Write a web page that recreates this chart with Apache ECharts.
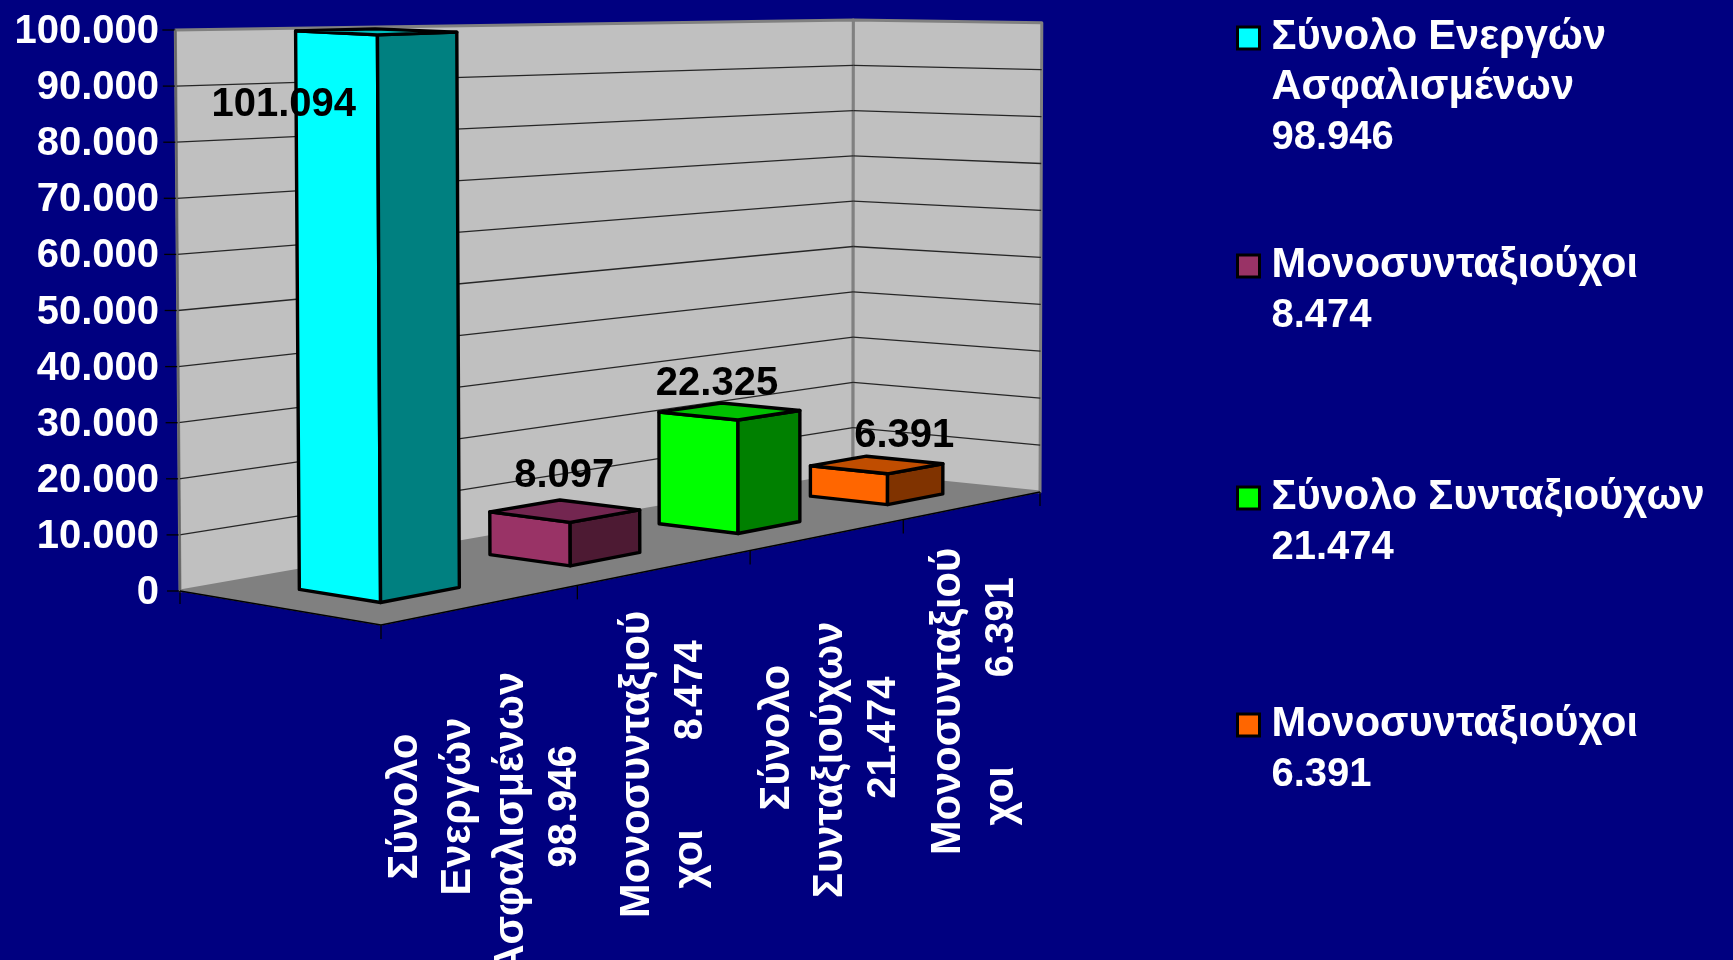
<!DOCTYPE html>
<html><head><meta charset="utf-8">
<style>html,body{margin:0;padding:0;background:#000080;overflow:hidden}#c{width:1733px;height:960px}</style>
<script src="https://cdn.jsdelivr.net/npm/echarts@6/dist/echarts.min.js"></script>
</head><body><div id="c"></div>
<script>
// ---- data ----
const categories = ['Σύνολο Ενεργών Ασφαλισμένων 98.946','Μονοσυνταξιούχοι 8.474','Σύνολο Συνταξιούχων 21.474','Μονοσυνταξιούχοι 6.391'];
const categoryLabels = ['Σύνολο\nΕνεργών\nΑσφαλισμένων   \n98.946','Μονοσυνταξιού\nχοι        8.474','Σύνολο\nΣυνταξιούχων    \n21.474','Μονοσυνταξιού\nχοι        6.391'];
const legendNames = ['Σύνολο Ενεργών\nΑσφαλισμένων\n98.946','Μονοσυνταξιούχοι\n8.474','Σύνολο Συνταξιούχων\n21.474','Μονοσυνταξιούχοι\n6.391'];
const barValues = [101094, 8097, 22325, 6391];
const barLabels = ['101.094','8.097','22.325','6.391'];
const yTicks = [0,10000,20000,30000,40000,50000,60000,70000,80000,90000,100000];

// ---- styles and layout ----
const FAMILY = '"Liberation Sans", Arial, sans-serif';
const FONT = 'bold 40px '+FAMILY;
const GREEK_FONT = 'bold 41.6px '+FAMILY;
const faceColors = [
  {side:'#00FFFF',front:'#008080',top:'#00C0C0'},
  {side:'#993366',front:'#4D1A33',top:'#732650'},
  {side:'#00FF00',front:'#008000',top:'#00C000'},
  {side:'#FF6600',front:'#803300',top:'#C04D00'}
];
const labelNudge = [[-92,73],[0,-35],[-12,-27],[28,-29]];
const catLabelShift = [[3,202],[-2,197],[2,203],[2,196]];
const legendCentres = [38,266,498,725];
const DEPTH = [0.295,0.7], BAR_FRACTION = 0.4, U_WARP = 0.05;
const LEAN = 0.0075, LEAN_CENTRE = 800;

function richGreek(line){return line.replace(/[\u0370-\u03FF]+/g,'{g|$&}');}

// ---- perspective box: floor corners and ceiling corners ----
const F=[381,625],R=[1040,492],B=[853,473],L=[180,591];
const FT=[378,42],RT=[1043,22.7],BT=[853,20],LT=[175,30];
function quadMap(p0,p1,p2,p3){
  const dx1=p1[0]-p2[0],dx2=p3[0]-p2[0],sx=p0[0]-p1[0]+p2[0]-p3[0];
  const dy1=p1[1]-p2[1],dy2=p3[1]-p2[1],sy=p0[1]-p1[1]+p2[1]-p3[1];
  const den=dx1*dy2-dx2*dy1;
  const g=(sx*dy2-dx2*sy)/den,h=(dx1*sy-sx*dy1)/den;
  const a=p1[0]-p0[0]+g*p1[0],b=p3[0]-p0[0]+h*p3[0],c=p0[0];
  const d=p1[1]-p0[1]+g*p1[1],e=p3[1]-p0[1]+h*p3[1],f=p0[1];
  return function(u,v){const w=g*u+h*v+1;return [(a*u+b*v+c)/w,(d*u+e*v+f)/w];};
}
const floorMap=quadMap(F,R,B,L), ceilMap=quadMap(FT,RT,BT,LT);
function P(u,v,z){
  const uw=u/(1+U_WARP*(1-u));
  const a=floorMap(uw,v),b=ceilMap(uw,v);
  return [a[0]+LEAN*(a[0]-LEAN_CENTRE)*z,a[1]+(b[1]-a[1])*z];
}
function poly(points,fill,stroke,lw){
  return {type:'polygon',shape:{points:points},style:{fill:fill,stroke:stroke,lineWidth:lw,lineJoin:'round'}};
}
function seg(a,b,stroke,lw){
  return {type:'line',shape:{x1:a[0],y1:a[1],x2:b[0],y2:b[1]},style:{stroke:stroke,lineWidth:lw}};
}
function toU(cs,x){return (x-cs.x)/cs.width;}
function toZ(cs,y){return (cs.y+cs.height-y)/cs.height;}

function renderFrame(params,api){
  const cs=params.coordSys,ch=[];
  ch.push(poly([P(0,0,0),P(1,0,0),P(1,1,0),P(0,1,0)],'#808080','#808080',1));
  ch.push(poly([P(0,1,0),P(1,1,0),P(1,1,1),P(0,1,1)],'#C0C0C0','#808080',3));
  ch.push(poly([P(1,1,0),P(1,0,0),P(1,0,1),P(1,1,1)],'#C0C0C0','#808080',3));
  yTicks.forEach(function(t){
    const z=toZ(cs,api.coord([0,t])[1]);
    if(t>0&&t<100000){
      ch.push(seg(P(0,1,z),P(1,1,z),'#262626',1.3));
      ch.push(seg(P(1,1,z),P(1,0,z),'#262626',1.3));
    }
    const a=P(0,1,z);
    ch.push(seg([a[0]-13,a[1]],a,'#000',1.3));
  });
  ch.push(seg(P(0,1,0),P(0,1,1),'#666',2));
  ch.push(seg(P(0,1,0),P(0,0,0),'#000',1.5));
  ch.push(seg(P(0,0,0),P(1,0,0),'#000',1.5));
  const a=P(0,1,0);ch.push(seg(a,[a[0],a[1]+13],'#000',1.3));
  const band=api.size([1,0])[0];
  categories.forEach(function(c,i){
    const x=api.coord([i,0])[0]+band/2;
    const p=P(toU(cs,x),0,0);
    ch.push(seg(p,[p[0],p[1]+14],'#000',1.3));
  });
  const p0=P(0,0,0);ch.push(seg(p0,[p0[0],p0[1]+14],'#000',1.3));
  return {type:'group',children:ch};
}
function renderBar(params,api){
  const cs=params.coordSys,i=api.value(0),val=api.value(1);
  const c=api.coord([i,val]),base=api.coord([i,0]),band=api.size([1,0])[0];
  const uc=toU(cs,c[0]),du=BAR_FRACTION*band/cs.width/2;
  const u0=uc-du,u1=uc+du,v0=DEPTH[0],v1=DEPTH[1];
  const z=Math.min(1,toZ(cs,c[1])),zb=toZ(cs,base[1]); // the bar is cut off at the axis maximum
  const col=faceColors[i],lw=3.4;
  const ch=[
    poly([P(u0,v1,zb),P(u0,v0,zb),P(u0,v0,z),P(u0,v1,z)],col.side,'#000',lw),
    poly([P(u0,v0,zb),P(u1,v0,zb),P(u1,v0,z),P(u0,v0,z)],col.front,'#000',lw),
    poly([P(u0,v0,z),P(u1,v0,z),P(u1,v1,z),P(u0,v1,z)],col.top,'#000',lw)
  ];
  const tc=P(uc,0.5,z),n=labelNudge[i];
  ch.push({type:'text',z2:20,style:{text:barLabels[i],x:tc[0]+n[0],y:tc[1]+n[1],fill:'#000',font:FONT,align:'center',verticalAlign:'middle'}});
  const e=P(uc,0,0),s=catLabelShift[i];
  ch.push({type:'text',x:e[0]+s[0],y:e[1]+s[1],rotation:Math.PI/2,style:{
    text:categoryLabels[i].split('\n').map(richGreek).join('\n'),x:0,y:0,fill:'#fff',font:FONT,align:'center',verticalAlign:'middle',lineHeight:53,
    rich:{g:{font:GREEK_FONT,fill:'#fff',lineHeight:53}}}});
  return {type:'group',children:ch};
}

const series=[{type:'custom',name:'frame',renderItem:renderFrame,data:[[0,0]],encode:{x:0,y:1},clip:false,silent:true,z:1}];
legendNames.forEach(function(n,i){
  series.push({type:'custom',name:n,renderItem:renderBar,data:[[i,barValues[i]]],encode:{x:0,y:1},clip:false,z:2+i,itemStyle:{color:faceColors[i].side}});
});
const legends=legendNames.map(function(n,i){
  const lines=n.split('\n').length;
  const blanks='\n'.repeat(lines-1);
  return {data:[n],left:1236,top:legendCentres[i]-(2*lines-1)*25,padding:0,orient:'vertical',selectedMode:false,
    icon:'rect',itemWidth:22,itemHeight:22,itemStyle:{borderColor:'#000',borderWidth:3},
    formatter:function(s){return blanks+s.split('\n').map(richGreek).join('\n');},
    textStyle:{color:'#fff',fontFamily:FAMILY,fontWeight:'bold',fontSize:40,lineHeight:50,padding:[0,0,0,7],
      rich:{g:{color:'#fff',fontFamily:FAMILY,fontWeight:'bold',fontSize:41.6,lineHeight:50}}}};
});
const chart=echarts.init(document.getElementById('c'),null,{renderer:'canvas'});
chart.setOption({
  backgroundColor:'#000080',animation:false,
  legend:legends,
  grid:{left:178,top:32,width:862,height:561,containLabel:false},
  xAxis:{type:'category',data:categories,axisLabel:{show:false},axisTick:{show:false},axisLine:{show:false},splitLine:{show:false}},
  yAxis:{type:'value',min:0,max:100000,interval:10000,axisLine:{show:false},axisTick:{show:false},splitLine:{show:false},
    axisLabel:{color:'#fff',fontFamily:FAMILY,fontWeight:'bold',fontSize:40,margin:19,hideOverlap:false,showMinLabel:true,showMaxLabel:true,
      formatter:function(v){return String(v).replace(/\B(?=(\d{3})+$)/g,'.');}}},
  series:series
});
</script></body></html>
